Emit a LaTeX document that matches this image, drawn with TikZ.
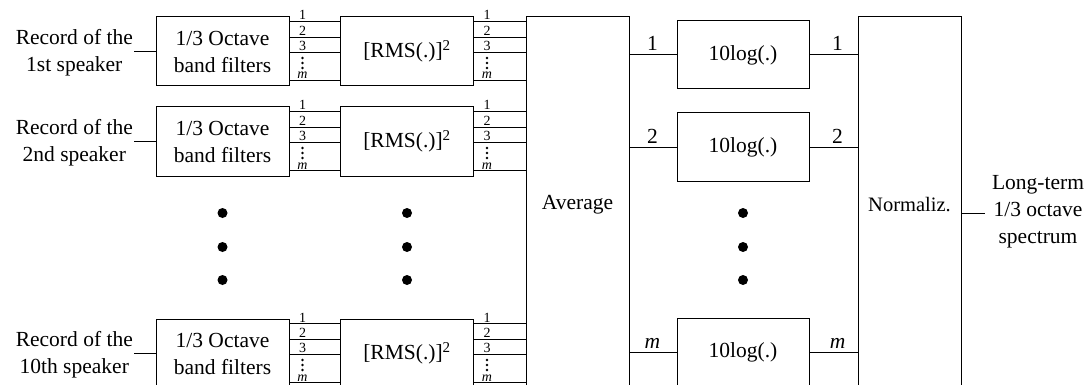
\documentclass[tikz,border=0pt]{standalone}
\usepackage{fontspec}
\setmainfont{Liberation Serif}
\usetikzlibrary{calc}
\begin{document}
\begin{tikzpicture}[x=1pt,y=-1pt,
  box/.style={draw,line width=1pt,inner sep=0pt,align=center,font=\fontsize{21.5}{27}\selectfont},
  fw/.style={minimum width=133pt,minimum height=69pt},
  wire/.style={line width=1pt},
  lbl/.style={font=\fontsize{14}{14}\selectfont,inner sep=0pt},
  big/.style={font=\fontsize{21.5}{27}\selectfont,align=center,inner sep=1pt},
  bigdot/.style={circle,fill,inner sep=0pt,minimum size=10pt},
  smalldot/.style={circle,fill,inner sep=0pt,minimum size=2.8pt}
]
\useasboundingbox (0,0) rectangle (1091,385);
\clip (0,0) rectangle (1091,385);

% Average and normalization blocks
\node[box,minimum width=103pt,minimum height=376pt] (avg) at (577.5,205) {Average};
\node[box,minimum width=103pt,minimum height=376pt,font=\fontsize{20.5}{24}\selectfont] (norm) at (909.5,205) {Normaliz.};

% input rows
\foreach \t/\n/\who in {17/1/1st,107/2/2nd,319/3/10th}{
  \node[box,fw] (f\n) at (222.5,\t+34.5) {1/3 Octave\\band filters};
  \node[box,fw] (r\n) at (407,\t+34.5) {[RMS(.)]\textsuperscript{2}};
  \node[big,anchor=east] (s\n) at (134,\t+36) {Record of the\\\who\ speaker};
  \draw[wire] (s\n.east |- f\n.west) -- (f\n.west);
  \foreach \o in {5,21,36,64}{
    \coordinate (fa) at ($(f\n.north east)+(0,\o)$);
    \coordinate (ra) at ($(r\n.north west)+(0,\o)$);
    \coordinate (rb) at ($(r\n.north east)+(0,\o)$);
    \draw[wire] (fa) -- (ra);
    \draw[wire] (rb) -- (avg.west |- rb);
  }
  \foreach \side in {f,r}{
    \coordinate (L) at ($(\side\n.north east)+(13,0)$);
    \node[lbl,anchor=base] at ($(L)+(0,3.5)$) {1};
    \node[lbl,anchor=base] at ($(L)+(0,19)$) {2};
    \node[lbl,anchor=base] at ($(L)+(0,34)$) {3};
    \node[smalldot] at ($(L)+(0,41.5)$) {};
    \node[smalldot] at ($(L)+(0,46.5)$) {};
    \node[smalldot] at ($(L)+(0,51.5)$) {};
    \node[lbl,anchor=base] at ($(L)+(0,62.5)$) {\itshape m};
  }
}

% 10log blocks
\foreach \y/\lab in {55/1,147/2,352/{\itshape m}}{
  \node[box,minimum width=132pt,minimum height=68pt] (lg) at (743,\y) {10log(.)};
  \draw[wire] (avg.east |- lg.west) -- (lg.west);
  \draw[wire] (lg.east) -- (norm.west |- lg.east);
  \node[big,anchor=base] at ($(lg.west)+(-24,-4)$) {\lab};
  \node[big,anchor=base] at ($(lg.east)+(28,-4)$) {\lab};
}

% vertical ellipsis dots
\foreach \x in {222.5,407,743}{
  \foreach \y in {213,247,280}{
    \node[bigdot] at (\x,\y) {};
  }
}

% output
\node[big] (out) at (1038,212) {Long-term\\1/3 octave\\spectrum};
\coordinate (oe) at (985,213);
\draw[wire] (norm.east |- oe) -- (oe);
\end{tikzpicture}
\end{document}
